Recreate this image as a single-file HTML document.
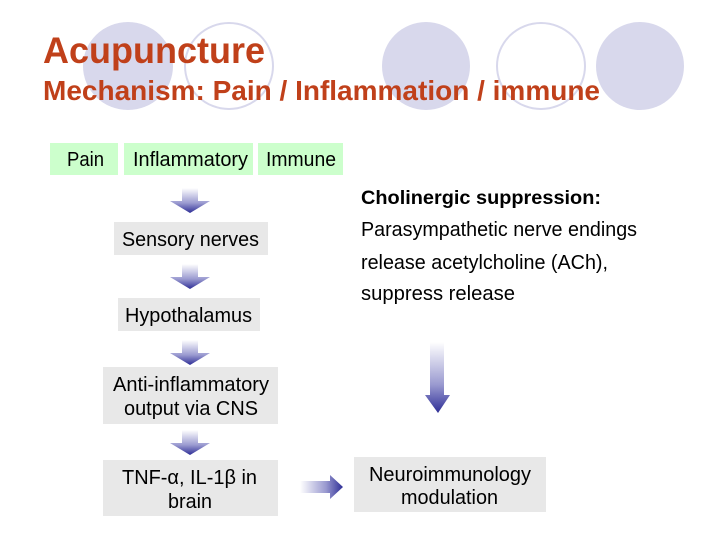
<!DOCTYPE html>
<html><head><style>
body{margin:0;background:#fff}
svg{display:block}
text{font-family:"Liberation Sans",sans-serif}
</style></head><body>
<svg width="720" height="540" viewBox="0 0 720 540" xmlns="http://www.w3.org/2000/svg">
<defs>
<linearGradient id="gv" x1="0" y1="0" x2="0" y2="1">
<stop offset="0" stop-color="#ffffff"/><stop offset="0.6" stop-color="#9a9ad0"/><stop offset="1" stop-color="#2e2e96"/>
</linearGradient>
<linearGradient id="gh" x1="0" y1="0" x2="1" y2="0">
<stop offset="0" stop-color="#ffffff"/><stop offset="0.6" stop-color="#9a9ad0"/><stop offset="1" stop-color="#2e2e96"/>
</linearGradient>
</defs>
<ellipse cx="128" cy="66" rx="45" ry="44" fill="#d8d8ec"/>
<ellipse cx="229" cy="66" rx="44" ry="43" fill="none" stroke="#d8d8ec" stroke-width="2"/>
<ellipse cx="426" cy="66" rx="44" ry="44" fill="#d8d8ec"/>
<ellipse cx="541" cy="66" rx="44" ry="43" fill="none" stroke="#d8d8ec" stroke-width="2"/>
<ellipse cx="640" cy="66" rx="44" ry="44" fill="#d8d8ec"/>
<text x="43" y="63" font-size="37" font-weight="bold" fill="#c0401a" textLength="222" lengthAdjust="spacingAndGlyphs">Acupuncture</text>
<text x="43" y="100" font-size="28" font-weight="bold" fill="#c0401a" textLength="557" lengthAdjust="spacingAndGlyphs">Mechanism: Pain / Inflammation / immune</text>
<g font-size="20" fill="#000">
<rect x="50" y="143" width="68" height="32" fill="#ccffcc"/>
<text x="67" y="166" textLength="37" lengthAdjust="spacingAndGlyphs">Pain</text>
<rect x="124" y="143" width="129" height="32" fill="#ccffcc"/>
<text x="133" y="166" textLength="115" lengthAdjust="spacingAndGlyphs">Inflammatory</text>
<rect x="258" y="143" width="85" height="32" fill="#ccffcc"/>
<text x="266" y="166" textLength="70" lengthAdjust="spacingAndGlyphs">Immune</text>
<rect x="114" y="222" width="154" height="33" fill="#e8e8e8"/>
<text x="122" y="246" textLength="137" lengthAdjust="spacingAndGlyphs">Sensory nerves</text>
<rect x="118" y="298" width="142" height="33" fill="#e8e8e8"/>
<text x="125" y="322" textLength="127" lengthAdjust="spacingAndGlyphs">Hypothalamus</text>
<rect x="103" y="367" width="175" height="57" fill="#e8e8e8"/>
<text x="113" y="391" textLength="156" lengthAdjust="spacingAndGlyphs">Anti-inflammatory</text>
<text x="124" y="415" textLength="134" lengthAdjust="spacingAndGlyphs">output via CNS</text>
<rect x="103" y="460" width="175" height="56" fill="#e8e8e8"/>
<text x="122" y="484" textLength="135" lengthAdjust="spacingAndGlyphs">TNF-α, IL-1β in</text>
<text x="168" y="508" textLength="44" lengthAdjust="spacingAndGlyphs">brain</text>
<rect x="354" y="457" width="192" height="55" fill="#e8e8e8"/>
<text x="369" y="481" textLength="162" lengthAdjust="spacingAndGlyphs">Neuroimmunology</text>
<text x="401" y="504" textLength="97" lengthAdjust="spacingAndGlyphs">modulation</text>
<text x="361" y="204" font-weight="bold" font-size="19" textLength="240" lengthAdjust="spacingAndGlyphs">Cholinergic suppression:</text>
<text x="361" y="236" textLength="276" lengthAdjust="spacingAndGlyphs">Parasympathetic nerve endings</text>
<text x="361" y="269" textLength="247" lengthAdjust="spacingAndGlyphs">release acetylcholine (ACh),</text>
<text x="361" y="300" textLength="154" lengthAdjust="spacingAndGlyphs">suppress release</text>
</g>
<g fill="url(#gv)">
<path d="M182 188h16v13h12l-20 12l-20-12h12z"/>
<path d="M182 264h16v13h12l-20 12l-20-12h12z"/>
<path d="M182 340h16v13h12l-20 12l-20-12h12z"/>
<path d="M182 430h16v13h12l-20 12l-20-12h12z"/>
<path d="M430 342h14v53h6l-12 18l-13-18h5z"/>
</g>
<path fill="url(#gh)" d="M300 481h30v-6l13 12l-13 12v-6h-30z"/>
</svg>
</body></html>
